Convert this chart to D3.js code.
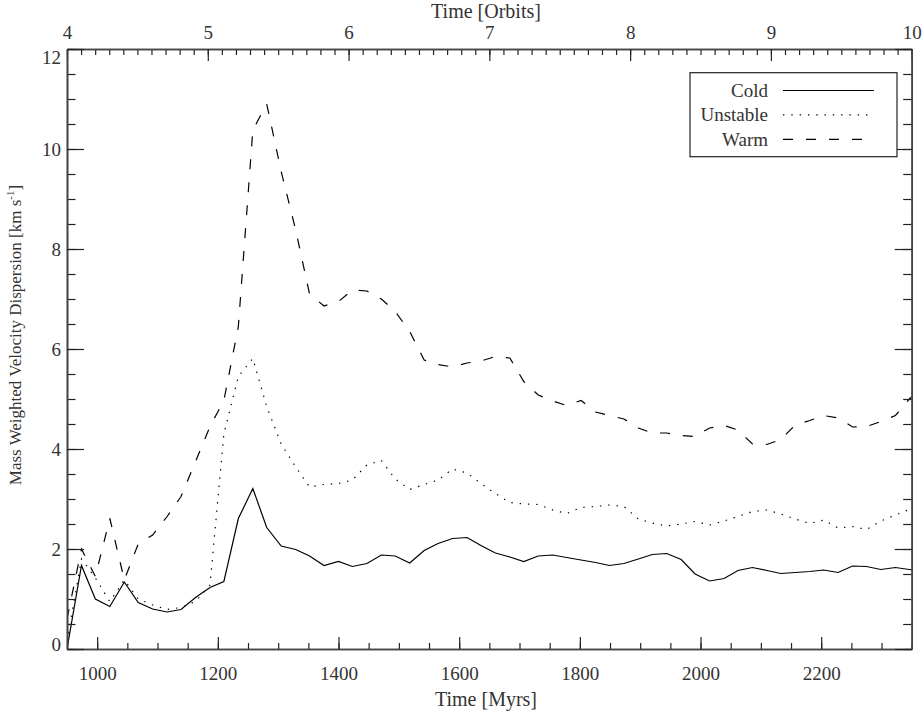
<!DOCTYPE html>
<html>
<head>
<meta charset="utf-8">
<script src="https://cdn.jsdelivr.net/npm/d3@7"></script>
<style>
  body { margin: 0; background: #fff; }
  text { font-family: "Liberation Serif", "Times New Roman", serif; fill: #333; }
</style>
</head>
<body>
<div id="chart"></div>
<script>
// Sample times (Myr), one every ~0.1 orbit
const timesMyr = [950, 974, 997, 1021, 1045, 1068, 1092, 1116, 1139, 1163,
  1187, 1210, 1234, 1258, 1281, 1305, 1329, 1352, 1376, 1400,
  1423, 1447, 1471, 1494, 1518, 1542, 1565, 1589, 1613, 1636,
  1660, 1684, 1707, 1731, 1755, 1778, 1802, 1826, 1849, 1873,
  1897, 1920, 1944, 1968, 1991, 2015, 2039, 2062, 2086, 2110,
  2133, 2157, 2181, 2204, 2228, 2252, 2275, 2299, 2323, 2346, 2370];

const cold = [0, 1.67, 1.0, 0.85, 1.34, 0.93, 0.8, 0.74, 0.79, 1.03,
  1.23, 1.35, 2.61, 3.21, 2.43, 2.06, 1.99, 1.86, 1.67, 1.75,
  1.65, 1.71, 1.88, 1.86, 1.72, 1.97, 2.11, 2.21, 2.23, 2.07,
  1.92, 1.84, 1.75, 1.86, 1.88, 1.83, 1.78, 1.73, 1.67, 1.71,
  1.8, 1.89, 1.91, 1.79, 1.5, 1.36, 1.41, 1.57, 1.63, 1.57,
  1.51, 1.53, 1.55, 1.58, 1.53, 1.66, 1.65, 1.59, 1.63, 1.59, 1.57];

const unstable = [0.15, 1.8, 1.42, 0.95, 1.38, 1.0, 0.88, 0.79, 0.83, 0.95,
  1.28, 4.3, 5.45, 5.81, 4.85, 4.1, 3.64, 3.24, 3.29, 3.31,
  3.38, 3.68, 3.77, 3.4, 3.19, 3.29, 3.38, 3.6, 3.52, 3.31,
  3.11, 2.93, 2.9, 2.89, 2.78, 2.71, 2.83, 2.85, 2.88, 2.85,
  2.6, 2.52, 2.46, 2.5, 2.55, 2.48, 2.56, 2.65, 2.75, 2.78,
  2.7, 2.6, 2.51, 2.58, 2.42, 2.45, 2.39, 2.56, 2.68, 2.79, 2.9];

const warm = [0.6, 2.0, 1.45, 2.61, 1.38, 2.1, 2.28, 2.65, 3.05, 3.75,
  4.45, 4.97, 6.45, 10.38, 10.9, 9.55, 8.38, 7.1, 6.86, 6.95,
  7.18, 7.16, 7.0, 6.75, 6.35, 5.78, 5.69, 5.64, 5.72, 5.76,
  5.85, 5.82, 5.35, 5.08, 4.96, 4.87, 4.97, 4.74, 4.67, 4.6,
  4.42, 4.32, 4.32, 4.27, 4.25, 4.42, 4.47, 4.38, 4.1, 4.09,
  4.19, 4.48, 4.57, 4.67, 4.62, 4.44, 4.45, 4.55, 4.67, 5.0, 5.25];

const seriesNames = ['Cold', 'Unstable', 'Warm'];
const xTicksMyr = [1000, 1200, 1400, 1600, 1800, 2000, 2200];
const xTicksOrbit = [4, 5, 6, 7, 8, 9, 10];
const yTicks = [0, 2, 4, 6, 8, 10, 12];

const DrawDispersionChart = function DrawDispersionChart(parent_selector) {

  const W = 924, H = 713;
  const left = 67, right = 911.7, top = 49, bottom = 649;
  const fontSize = 19;

  // scales: bottom in Myr, top in orbits, same span
  const x = d3.scaleLinear().domain([950, 2350]).range([left, right]);
  const xo = d3.scaleLinear().domain([4, 10]).range([left, right]);
  const y = d3.scaleLinear().domain([0, 12]).range([bottom, top]);

  const svg = d3.select(parent_selector).append('svg')
    .attr('width', W)
    .attr('height', H);

  svg.append('defs').append('clipPath').attr('id', 'plot-clip')
    .append('rect')
    .attr('x', left).attr('y', top)
    .attr('width', right - left).attr('height', bottom - top);

  // styles for series: solid, dotted, dashed
  const dashes = [null, '1.4,6.9', '10,13'];
  const values = [cold, unstable, warm];

  const line = d3.line().x((d, i) => x(timesMyr[i])).y(d => y(d));

  const lines = svg.append('g').attr('clip-path', 'url(#plot-clip)');
  values.forEach((vals, k) => {
    lines.append('path')
      .datum(vals)
      .attr('fill', 'none')
      .attr('stroke', '#000')
      .attr('stroke-width', 1.2)
      .attr('stroke-dasharray', dashes[k])
      .attr('d', line);
  });

  // Axes (ticks point inward like IDL)
  function styleAxis(g) {
    g.selectAll('.domain').attr('stroke', '#444').attr('stroke-width', 1.6);
    g.selectAll('.tick line').attr('stroke', '#222').attr('stroke-width', 1.2);
    g.selectAll('text').attr('font-size', fontSize).attr('font-family', null).attr('fill', '#333');
  }

  // bottom
  svg.append('g').attr('transform', 'translate(0,' + bottom + ')')
    .call(d3.axisBottom(x).tickValues(d3.range(950, 2351, 50)).tickSize(-6).tickSizeOuter(0).tickFormat(''))
    .call(styleAxis);
  svg.append('g').attr('transform', 'translate(0,' + bottom + ')')
    .call(d3.axisBottom(x).tickValues(xTicksMyr).tickSize(-12).tickSizeOuter(0).tickPadding(17.5).tickFormat(d3.format('d')))
    .call(styleAxis);

  // top
  svg.append('g').attr('transform', 'translate(0,' + top + ')')
    .call(d3.axisTop(xo).tickValues(d3.range(40, 101).map(v => v / 10)).tickSize(-6).tickSizeOuter(0).tickFormat(''))
    .call(styleAxis);
  svg.append('g').attr('transform', 'translate(0,' + top + ')')
    .call(d3.axisTop(xo).tickValues(xTicksOrbit).tickSize(-12).tickSizeOuter(0).tickPadding(10).tickFormat(d3.format('d')))
    .call(styleAxis);

  // left
  svg.append('g').attr('transform', 'translate(' + left + ',0)')
    .call(d3.axisLeft(y).tickValues(d3.range(0, 12.01, 0.5)).tickSize(-8.5).tickSizeOuter(0).tickFormat(''))
    .call(styleAxis);
  const yAxisG = svg.append('g').attr('transform', 'translate(' + left + ',0)')
    .call(d3.axisLeft(y).tickValues(yTicks).tickSize(-17).tickSizeOuter(0).tickPadding(6).tickFormat(d3.format('d')))
    .call(styleAxis);
  // IDL nudges the end labels inside the axis range
  yAxisG.selectAll('.tick text')
    .attr('y', d => d === 0 ? -5 : (d === 12 ? 8 : 0));

  // right
  svg.append('g').attr('transform', 'translate(' + right + ',0)')
    .call(d3.axisRight(y).tickValues(d3.range(0, 12.01, 0.5)).tickSize(-8.5).tickSizeOuter(0).tickFormat(''))
    .call(styleAxis);
  svg.append('g').attr('transform', 'translate(' + right + ',0)')
    .call(d3.axisRight(y).tickValues(yTicks).tickSize(-17).tickSizeOuter(0).tickFormat(''))
    .call(styleAxis);

  // Axis titles
  svg.append('text')
    .attr('x', 486).attr('y', 706)
    .attr('text-anchor', 'middle').attr('font-size', 20)
    .text('Time [Myrs]');
  svg.append('text')
    .attr('x', 486).attr('y', 18)
    .attr('text-anchor', 'middle').attr('font-size', 20)
    .text('Time [Orbits]');

  const yTitle = svg.append('text')
    .attr('transform', 'translate(20.5,335) rotate(-90)')
    .attr('text-anchor', 'middle').attr('font-size', 17);
  yTitle.append('tspan').text('Mass Weighted Velocity Dispersion [km s');
  yTitle.append('tspan').attr('font-size', 11).attr('dy', -7).text('-1');
  yTitle.append('tspan').attr('dy', 7).text(']');

  // Legend
  const legend = svg.append('g');
  legend.append('rect')
    .attr('x', 690).attr('y', 72.7)
    .attr('width', 207).attr('height', 84)
    .attr('fill', '#fff').attr('stroke', '#222').attr('stroke-width', 1.2);

  const items = legend.selectAll('.legend-item')
    .data(seriesNames).enter()
    .append('g')
    .attr('class', 'legend-item')
    .attr('transform', (d, i) => 'translate(0,' + (97 + i * 24.4) + ')');
  items.append('text')
    .attr('x', 768).attr('text-anchor', 'end').attr('font-size', fontSize)
    .text(d => d);
  items.append('line')
    .attr('x1', 783).attr('x2', 874)
    .attr('y1', -6.5).attr('y2', -6.5)
    .attr('stroke', '#000').attr('stroke-width', 1.2)
    .attr('stroke-dasharray', (d, i) => dashes[i]);
};

DrawDispersionChart('#chart');
</script>
</body>
</html>
